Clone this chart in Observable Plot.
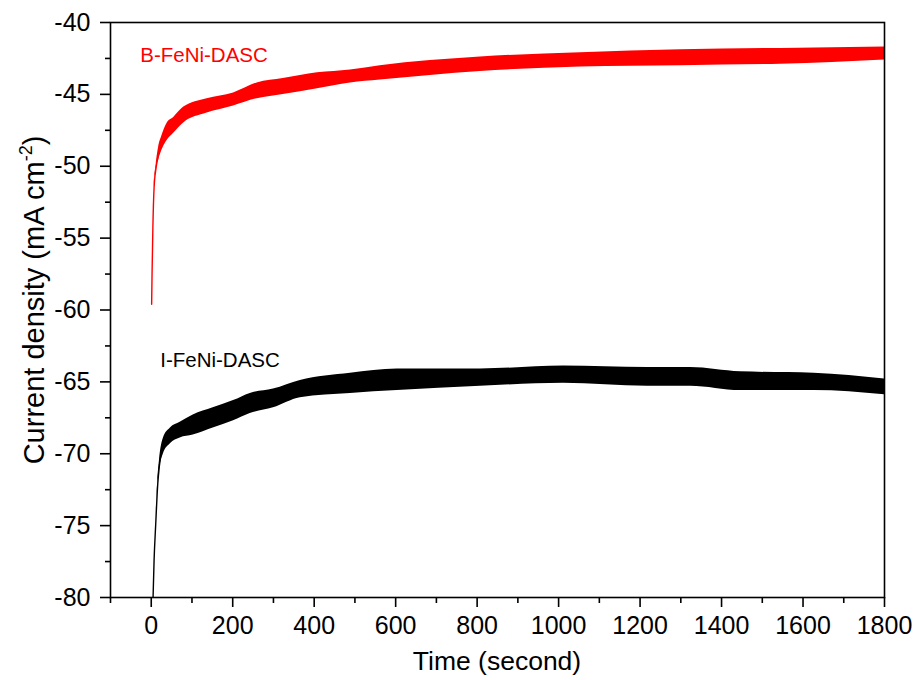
<!DOCTYPE html>
<html>
<head>
<meta charset="utf-8">
<script src="https://cdn.jsdelivr.net/npm/d3@7"></script>
<script src="https://cdn.jsdelivr.net/npm/@observablehq/plot@0.6"></script>
<style>
  html, body { margin: 0; padding: 0; background: #ffffff; }
  #chart { width: 919px; height: 680px; }
</style>
</head>
<body>
<div id="chart"></div>
<script>
// ---- Data (time in s, current density envelope in mA cm^-2) ----
const redTime = [1, 2, 4, 7, 12, 18, 26, 39, 55, 79, 137, 202, 260, 324, 408, 489, 562, 808, 1054, 1300, 1545, 1800];
const redLow  = [-59.6, -57.5, -54.3, -51.5, -50.3, -49.6, -48.9, -48.2, -47.7, -47.0, -46.3, -45.8, -45.3, -45.0, -44.6, -44.2, -44.0, -43.4, -43.1, -43.0, -42.9, -42.6];
const redHigh = [-59.6, -57.5, -54.3, -51.5, -49.9, -48.7, -47.9, -47.0, -46.6, -45.9, -45.3, -44.9, -44.2, -43.9, -43.5, -43.3, -43.0, -42.4, -42.1, -41.9, -41.8, -41.7];

const blackTime = [4, 7, 11, 16, 20, 30, 47, 71, 103, 152, 202, 243, 300, 366, 489, 604, 808, 1012, 1218, 1324, 1447, 1627, 1800];
const blackLow  = [-80.5, -77.4, -74.9, -72.3, -71.2, -70.0, -69.3, -68.9, -68.7, -68.2, -67.7, -67.2, -66.8, -66.1, -65.8, -65.6, -65.3, -65.1, -65.3, -65.3, -65.6, -65.6, -65.9];
const blackHigh = [-80.5, -77.4, -74.9, -71.9, -70.5, -68.9, -68.2, -67.8, -67.3, -66.8, -66.3, -65.8, -65.5, -64.9, -64.4, -64.1, -64.1, -63.9, -64.0, -64.0, -64.3, -64.4, -64.8];

const seriesNames  = ["B-FeNi-DASC", "I-FeNi-DASC"];
const seriesColors = ["#ff0000", "#000000"];
const labelTime  = [-27, 22];
const labelValue = [-42.3, -63.5];

const xMajorTicks = [0, 200, 400, 600, 800, 1000, 1200, 1400, 1600, 1800];
const xMinorTicks = [-100, 100, 300, 500, 700, 900, 1100, 1300, 1500, 1700];
const yMajorTicks = [-80, -75, -70, -65, -60, -55, -50, -45, -40];
const yMinorTicks = [-77.5, -72.5, -67.5, -62.5, -57.5, -52.5, -47.5, -42.5];

const xTitle = "Time (second)";
const yTitleMain = "Current density (mA cm";
const yTitleSup = "-2";
const yTitleEnd = ")";

// ---- Build tables ----
function rows(t, lo, hi, name) {
  return t.map((v, i) => ({t: v, lo: lo[i], hi: hi[i], mid: (lo[i] + hi[i]) / 2, series: name}));
}
const redRows = rows(redTime, redLow, redHigh, seriesNames[0]);
const blackRows = rows(blackTime, blackLow, blackHigh, seriesNames[1]);
const labels = seriesNames.map((s, i) => ({t: labelTime[i], v: labelValue[i], text: s, color: seriesColors[i]}));

const FONT = "'Liberation Sans', Arial, Helvetica, sans-serif";

const plot = Plot.plot({
  width: 919,
  height: 680,
  marginLeft: 110,
  marginRight: 35,
  marginTop: 22,
  marginBottom: 83,
  style: {fontFamily: FONT, color: "#000", background: "#fff", overflow: "visible"},
  x: {domain: [-100, 1800]},
  y: {domain: [-80, -40]},
  marks: [
    Plot.areaY(redRows, {x: "t", y1: "lo", y2: "hi", fill: seriesColors[0], curve: "monotone-x", clip: true}),
    Plot.line(redRows, {x: "t", y: "mid", stroke: seriesColors[0], strokeWidth: 1.4, curve: "monotone-x", clip: true}),
    Plot.areaY(blackRows, {x: "t", y1: "lo", y2: "hi", fill: seriesColors[1], curve: "monotone-x", clip: true}),
    Plot.line(blackRows, {x: "t", y: "mid", stroke: seriesColors[1], strokeWidth: 1.4, curve: "monotone-x", clip: true}),
    Plot.text(labels, {x: "t", y: "v", text: "text", fill: "color", textAnchor: "start", fontSize: 20.5, fontFamily: FONT}),
    Plot.frame({stroke: "#000", strokeWidth: 1.6}),
    Plot.axisX(xMajorTicks, {tickSize: 10, tickPadding: 9, fontSize: 25, strokeWidth: 1.6, tickFormat: d => String(d), label: null}),
    Plot.axisX(xMinorTicks, {tickSize: 6, tickFormat: () => "", strokeWidth: 1.6, label: null}),
    Plot.axisY(yMajorTicks, {tickSize: 10, tickPadding: 10, fontSize: 25, strokeWidth: 1.6, tickFormat: d => String(d), label: null}),
    Plot.axisY(yMinorTicks, {tickSize: 5, tickFormat: () => "", strokeWidth: 1.6, label: null})
  ]
});

document.getElementById("chart").appendChild(plot);

// Axis titles as real text
const svg = d3.select(plot);
svg.append("text")
  .attr("x", 497)
  .attr("y", 670)
  .attr("text-anchor", "middle")
  .attr("font-family", FONT)
  .attr("font-size", 26.5)
  .attr("fill", "#000")
  .text(xTitle);

const yt = svg.append("text")
  .attr("transform", "translate(44,300) rotate(-90)")
  .attr("text-anchor", "middle")
  .attr("font-family", FONT)
  .attr("font-size", 29)
  .attr("fill", "#000");
yt.append("tspan").text(yTitleMain);
yt.append("tspan").attr("font-size", 18).attr("dy", -12).text(yTitleSup);
yt.append("tspan").attr("dy", 12).text(yTitleEnd);
</script>
</body>
</html>
